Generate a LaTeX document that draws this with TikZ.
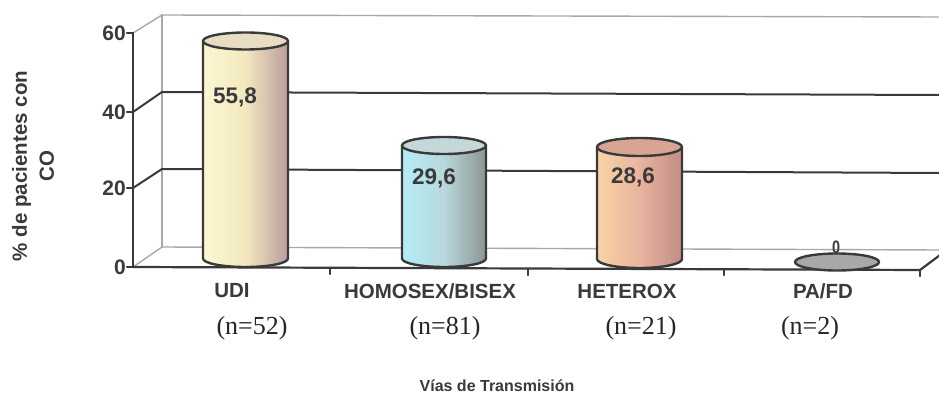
\documentclass[tikz,border=0pt]{standalone}
\usepackage{fontspec}
\setmainfont{Liberation Sans}
\newfontfamily\timesf{Liberation Serif}
\definecolor{ink}{HTML}{3A3A3A}
\definecolor{grayln}{HTML}{A8A8A8}
\definecolor{udiL}{HTML}{FCF8D2}
\definecolor{udiM}{HTML}{F2E8C0}
\definecolor{udiR}{HTML}{BC9C9C}
\definecolor{udiT}{HTML}{E8DCC2}
\definecolor{homL}{HTML}{B4ECF8}
\definecolor{homM}{HTML}{B8D8DC}
\definecolor{homR}{HTML}{8E9494}
\definecolor{homT}{HTML}{C4D8DA}
\definecolor{hetL}{HTML}{F8D4A4}
\definecolor{hetM}{HTML}{E8B4A0}
\definecolor{hetR}{HTML}{C48C84}
\definecolor{hetT}{HTML}{D8A494}
\definecolor{pafd}{HTML}{A8A8A8}
\tikzset{
  grayline/.style={draw=grayln, line width=1.4pt},
  gridln/.style={draw=ink, line width=2pt},
  axisln/.style={draw=ink, line width=2.2pt},
  cylline/.style={draw=ink, line width=2.4pt},
  ticklab/.style={font=\bfseries\fontsize{21}{22}\selectfont, text=ink, anchor=east, inner sep=0pt},
  catlab/.style={font=\bfseries\fontsize{20.5}{22}\selectfont, text=ink, inner sep=0pt},
  nlab/.style={font=\timesf\fontsize{26}{28}\selectfont, text=black!85, inner sep=0pt},
  vallab/.style={font=\bfseries\fontsize{22.5}{24}\selectfont, text=ink, inner sep=0pt},
  axlab/.style={font=\bfseries\fontsize{20.5}{27}\selectfont, text=ink, inner sep=0pt, align=center, rotate=90},
}
\newcommand\mycyl[9]{%
  \pgfmathsetmacro\rx{(#2-#1)/2}%
  \pgfmathsetmacro\cx{(#1+#2)/2}%
  \shade[left color=#6, right color=#8, middle color=#7]
    (#1,#3) -- (#1,#4) arc[start angle=180,end angle=360,x radius=\rx pt,y radius=#5 pt]
    -- (#2,#3) arc[start angle=0,end angle=-180,x radius=\rx pt,y radius=#5 pt] -- cycle;
  \draw[cylline] (#1,#3) -- (#1,#4) arc[start angle=180,end angle=360,x radius=\rx pt,y radius=#5 pt] -- (#2,#3);
  \draw[cylline, fill=#9] (\cx,#3) ellipse[x radius=\rx pt, y radius=#5 pt];
}
\begin{document}
\begin{tikzpicture}[x=1pt,y=-1pt,line join=round,line cap=round]
\useasboundingbox (0,0) rectangle (939,398);
\fill[white] (0,0) rectangle (939,398);
% back wall (light)
\draw[grayline] (162,15) -- (939,17);
\draw[grayline] (162,15) -- (162,247);
\draw[grayline] (162,247) -- (939,250);
\draw[grayline] (133,33) -- (162,15);
\draw[grayline] (133,267) -- (162,247);
% gridlines
\draw[gridln] (133,112) -- (162,92) -- (939,95);
\draw[gridln] (133,188) -- (162,169) -- (939,173);
% vertical axis and ticks
\draw[axisln] (133,33) -- (133,267);
\foreach \yy in {33,112,188,267} \draw[axisln] (127,\yy) -- (133,\yy);
% floor front edge
\draw[axisln] (133,267) -- (920,270) -- (944,252);
\foreach \xx/\yy in {330/268,528/269,724/269,920/270} \draw[axisln] (\xx,\yy) -- (\xx,\yy+6);
% tick labels
\node[ticklab] (t60) at (126,33) {60};
\node[ticklab] (t40) at (126,112) {40};
\node[ticklab] (t20) at (126,188) {20};
\node[ticklab] (t0) at (126,267) {0};
% cylinders
\mycyl{203}{288}{41}{258.5}{8.5}{udiL}{udiM}{udiR}{udiT}
\mycyl{402}{486}{145.5}{258.5}{8.5}{homL}{homM}{homR}{homT}
\mycyl{597}{682}{147}{259}{9}{hetL}{hetM}{hetR}{hetT}
\draw[cylline, fill=pafd] (837,262) ellipse[x radius=42pt, y radius=8.5pt];
% value labels
\node[vallab] (v1) at (235,97) {55,8};
\node[vallab] (v2) at (434,178) {29,6};
\node[vallab] (v3) at (633,177) {28,6};
\node[font=\bfseries\fontsize{18}{20}\selectfont, text=ink, inner sep=0pt, xscale=0.8] (v4) at (836,247) {0};
% category labels
\node[catlab] (c1) at (232,291) {UDI};
\node[catlab] (c2) at (430,291) {HOMOSEX/BISEX};
\node[catlab] (c3) at (627,291) {HETEROX};
\node[catlab] (c4) at (823,291) {PA/FD};
% n labels
\node[nlab] (n1) at (252,328) {(n=52)};
\node[nlab] (n2) at (445,328) {(n=81)};
\node[nlab] (n3) at (641,328) {(n=21)};
\node[nlab] (n4) at (810,328) {(n=2)};
% axis titles
\node[font=\bfseries\fontsize{16}{18}\selectfont, text=ink, inner sep=0pt] (xt) at (497,386) {Vías de Transmisión};
\node[axlab] (yt) at (33,166) {\% de pacientes con\\CO};
\end{tikzpicture}
\end{document}
